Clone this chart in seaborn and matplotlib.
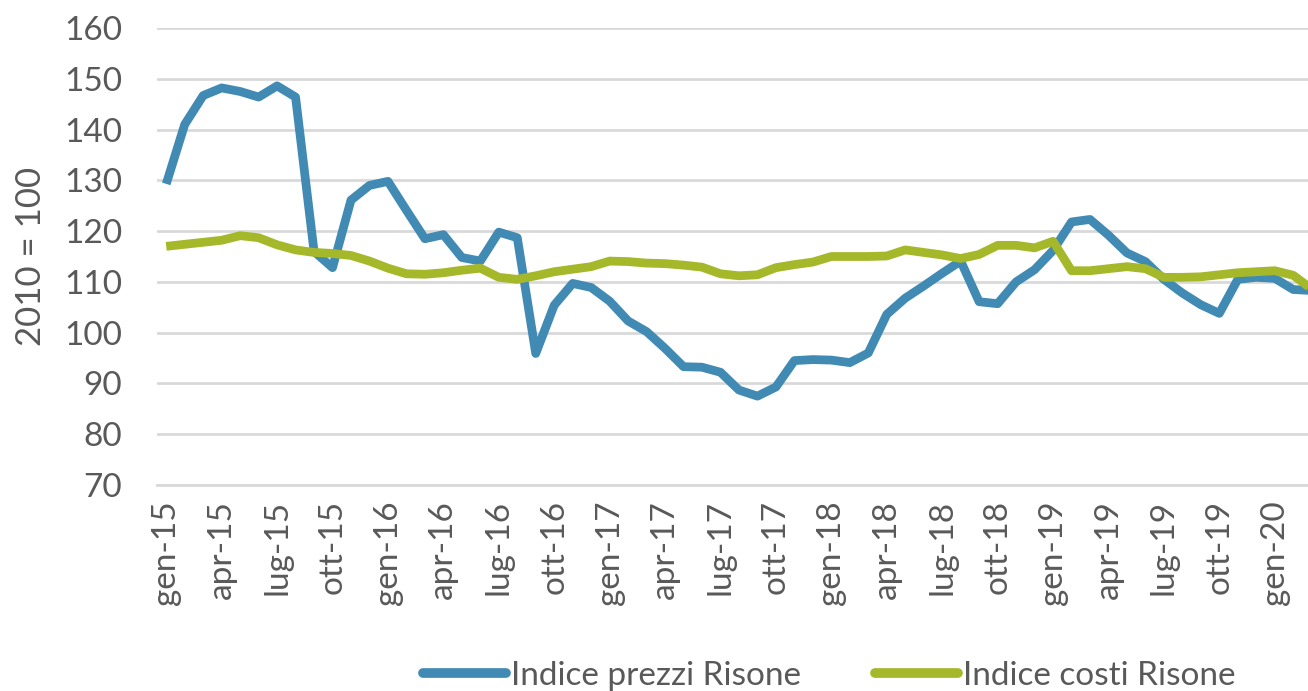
import pandas as pd
import numpy as np
import matplotlib
matplotlib.use("Agg")
import matplotlib.pyplot as plt
import seaborn as sns

# =========================
# Data (monthly, gen-15 .. mar-20)
# =========================
mesi = ["gen", "feb", "mar", "apr", "mag", "giu",
        "lug", "ago", "set", "ott", "nov", "dic"]
anni = ["15", "16", "17", "18", "19", "20"]
periodi = [m + "-" + a for a in anni for m in mesi][:63]

prezzi = [129.3, 141.0, 146.7, 148.2, 147.5, 146.4, 148.6, 146.4, 116.0, 112.8,
          126.1, 129.0, 129.8, 124.1, 118.5, 119.3, 114.8, 114.1, 119.8, 118.7,
          95.9, 105.4, 109.7, 108.9, 106.2, 102.3, 100.2, 96.9, 93.3, 93.2,
          92.2, 88.7, 87.5, 89.3, 94.5, 94.7, 94.6, 94.1, 96.0, 103.6,
          106.8, 109.2, 111.7, 114.1, 106.1, 105.7, 110.0, 112.4, 116.2, 121.8,
          122.3, 119.2, 115.7, 114.0, 110.5, 107.8, 105.5, 103.8, 110.5, 110.9,
          110.7, 108.5, 108.3]

costi = [117.0, 117.4, 117.8, 118.2, 119.1, 118.7, 117.3, 116.3, 115.8, 115.6,
         115.2, 114.1, 112.7, 111.6, 111.5, 111.8, 112.3, 112.7, 110.9, 110.5,
         111.2, 112.0, 112.5, 113.0, 114.1, 114.0, 113.7, 113.6, 113.3, 112.9,
         111.6, 111.2, 111.4, 112.8, 113.4, 113.9, 115.0, 115.0, 115.0, 115.1,
         116.3, 115.8, 115.3, 114.6, 115.4, 117.2, 117.2, 116.7, 118.0, 112.2,
         112.2, 112.6, 113.0, 112.6, 110.9, 110.9, 111.0, 111.4, 111.8, 112.0,
         112.2, 111.3, 108.6]

serie_prezzi = "Indice prezzi Risone"
serie_costi = "Indice costi Risone"

df = pd.DataFrame({
    "idx": list(range(len(prezzi))) * 2,
    "valore": prezzi + costi,
    "serie": [serie_prezzi] * len(prezzi) + [serie_costi] * len(costi),
})

# =========================
# Plot
# =========================
sns.set_style("white")
plt.rcParams["font.family"] = ["Lato", "DejaVu Sans"]

blu = "#418AB3"
verde = "#A5B82A"
grigio_testo = "#595959"
grigio_linee = "#D9D9D9"

fig = plt.figure(figsize=(13.08, 6.91), dpi=100)
ax = fig.add_axes([157 / 1308, 1 - 485 / 691, 1 - 157 / 1308, (485 - 28) / 691])

sns.lineplot(data=df, x="idx", y="valore", hue="serie",
             palette={serie_prezzi: blu, serie_costi: verde},
             linewidth=6.3, ax=ax, legend=False)
for line in ax.lines:
    line.set_solid_joinstyle("round")
    line.set_solid_capstyle("butt")

# y axis
ax.set_ylim(70, 160)
ax.set_yticks(np.arange(70, 161, 10))
ax.yaxis.grid(True, color=grigio_linee, linewidth=2)
ax.set_axisbelow(True)
ax.set_ylabel("2010 = 100", fontsize=25, color=grigio_testo, labelpad=12)

# x axis: labels every 3 months, tick marks at category boundaries
ax.set_xlim(-0.5, 61.8)
pos = list(range(0, len(periodi), 3))
ax.set_xticks(pos)
ax.set_xticklabels([periodi[i] for i in pos], rotation=90)
ax.set_xticks([p - 0.5 for p in pos], minor=True)
ax.tick_params(axis="x", which="major", length=0, pad=11,
               labelsize=24, labelcolor=grigio_testo)
ax.tick_params(axis="x", which="minor", length=10, width=2,
               color=grigio_linee, direction="out")
ax.tick_params(axis="y", length=0, labelsize=24, labelcolor=grigio_testo, pad=25)
ax.set_xlabel("")

for side in ["top", "right", "left"]:
    ax.spines[side].set_visible(False)
ax.spines["bottom"].set_color(grigio_linee)
ax.spines["bottom"].set_linewidth(2)

# legend
handles = [plt.Line2D([], [], color=blu, linewidth=7, solid_capstyle="round"),
           plt.Line2D([], [], color=verde, linewidth=7, solid_capstyle="round")]
fig.legend(handles, [serie_prezzi, serie_costi], loc="center",
           bbox_to_anchor=(0.634, 0.022), ncol=2, frameon=False,
           fontsize=24, labelcolor=grigio_testo, handlelength=2.5,
           handletextpad=0.15, columnspacing=2.2)

fig.savefig("out.png", dpi=100)
